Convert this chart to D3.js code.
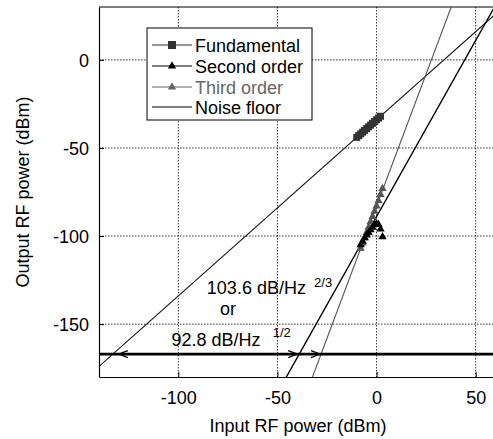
<!DOCTYPE html>
<html><head><meta charset="utf-8">
<script src="https://cdn.jsdelivr.net/npm/d3@7"></script>
<style>
html,body{margin:0;padding:0;background:#fff;}
svg{display:block;font-family:"Liberation Sans",Arial,sans-serif;}
</style></head>
<body>
<svg id="c" width="493" height="439"></svg>
<script>
// ---- data ----
const xTicks = [-100, -50, 0, 50];
const yTicks = [0, -50, -100, -150];
const inputFund = [-10,-9,-8,-7,-6,-5,-4,-3,-2,-1,0,1,2];
const fundamental = [-44,-43,-42,-41,-40,-39,-38,-37,-36,-35,-34,-33,-32];
const inputSecond = [-8,-7,-6,-5,-4,-3,-2,-1,0,1,2,3];
const secondOrder = [-105,-103,-101,-99.5,-98,-96.5,-95,-93.5,-93,-93.5,-96,-100.5];
const inputThird = [-8,-7,-6,-5,-4,-3,-2,-1,0,1,2,3];
const thirdOrder = [-107,-104,-101,-98,-95,-92,-89,-86,-83,-80,-76.5,-73];
const fitNames = ["fund","second","third"];
const fitSlopes = [1, 2, 3];
const fitIntercepts = [-34, -89, -83];
const noiseFloor = -167;
const arrowTips = [-130, -40, -28.5];
const arrowDirs = [-1, 1, 1];
const legendLabels = ["Fundamental","Second order","Third order","Noise floor"];

const svg = d3.select("#c");
const x = d3.scaleLinear().domain([-140, 60]).range([99, 495.5]);
const y = d3.scaleLinear().domain([-180, 30]).range([377, 7]);
const FS = 18;

svg.append("defs").append("clipPath").attr("id","clip")
  .append("rect").attr("x",99).attr("y",7).attr("width",400).attr("height",370);

// grid
const grid = svg.append("g");
grid.selectAll(".gx").data(xTicks).join("line")
  .attr("x1",d=>x(d)).attr("x2",d=>x(d)).attr("y1",y(30)).attr("y2",y(-180))
  .attr("stroke","#333").attr("stroke-width",1).attr("stroke-dasharray","1.5,1.5");
grid.selectAll(".gy").data(yTicks).join("line")
  .attr("y1",d=>y(d)).attr("y2",d=>y(d)).attr("x1",x(-140)).attr("x2",x(60))
  .attr("stroke","#333").attr("stroke-width",1).attr("stroke-dasharray","1.5,1.5");

// axes
const fmt = d => String(d);
const ax = svg.append("g").attr("transform",`translate(0,${y(-180)})`)
  .call(d3.axisBottom(x).tickValues(xTicks).tickFormat(fmt).tickSizeInner(-5).tickSizeOuter(0).tickPadding(14));
const ay = svg.append("g").attr("transform",`translate(${x(-140)},0)`)
  .call(d3.axisLeft(y).tickValues(yTicks).tickFormat(fmt).tickSizeInner(-5).tickSizeOuter(0).tickPadding(10));
[ax, ay].forEach(a => {
  a.selectAll("text").attr("font-size",FS).attr("fill","#000").attr("font-family","Liberation Sans, Arial, sans-serif");
  a.select(".domain").attr("stroke","#000").attr("stroke-width",1.2);
  a.selectAll(".tick line").attr("stroke","#000");
});
ay.selectAll("text").attr("dy","0.35em");
// top border
svg.append("line").attr("x1",x(-140)).attr("x2",x(60)).attr("y1",y(30)).attr("y2",y(30))
  .attr("stroke","#000").attr("stroke-width",1.2);

// axis titles
svg.append("text").attr("x",298).attr("y",432).attr("text-anchor","middle")
  .attr("font-size",FS).text("Input RF power (dBm)");
svg.append("text").attr("transform","translate(29,192) rotate(-90)").attr("text-anchor","middle")
  .attr("font-size",FS).text("Output RF power (dBm)");

// plot area
const plot = svg.append("g").attr("clip-path","url(#clip)");

// fit lines
const fitColors = ["#111","#000","#555"];
const fitWidths = [1.1, 1.4, 1.1];
fitNames.forEach((n,i) => {
  const x0 = -140, x1 = 60;
  plot.append("line")
    .attr("x1",x(x0)).attr("y1",y(fitSlopes[i]*x0+fitIntercepts[i]))
    .attr("x2",x(x1)).attr("y2",y(fitSlopes[i]*x1+fitIntercepts[i]))
    .attr("stroke",fitColors[i]).attr("stroke-width",fitWidths[i]);
});
// noise floor
plot.append("line").attr("x1",x(-140)).attr("x2",x(60)).attr("y1",y(noiseFloor)).attr("y2",y(noiseFloor))
  .attr("stroke","#000").attr("stroke-width",2.6);
// arrowheads
arrowTips.forEach((t,i) => {
  const tx = x(t), ty = y(noiseFloor), d = arrowDirs[i];
  plot.append("path").attr("d",`M${tx-d*9},${ty-3.5}L${tx},${ty}L${tx-d*9},${ty+3.5}`)
    .attr("fill","none").attr("stroke","#000").attr("stroke-width",1.2);
});

// data markers
const tri = d3.symbol().type(d3.symbolTriangle).size(30);
plot.selectAll(".third").data(inputThird).join("path")
  .attr("d",tri).attr("transform",(d,i)=>`translate(${x(d)},${y(thirdOrder[i])})`).attr("fill","#555");
plot.selectAll(".second").data(inputSecond).join("path")
  .attr("d",tri).attr("transform",(d,i)=>`translate(${x(d)},${y(secondOrder[i])})`).attr("fill","#000");
plot.selectAll(".fund").data(inputFund).join("rect")
  .attr("x",d=>x(d)-3.5).attr("y",(d,i)=>y(fundamental[i])-3.5).attr("width",7).attr("height",7).attr("fill","#333");

// annotations
const ann = svg.append("g").attr("font-size",FS);
ann.append("text").attr("x",x(-85.6)).attr("y",y(-132.9)).text("103.6 dB/Hz");
ann.append("text").attr("x",x(-31.5)).attr("y",y(-128.8)).attr("font-size",13).text("2/3");
ann.append("text").attr("x",x(-79)).attr("y",y(-144.8)).text("or");
ann.append("text").attr("x",x(-103.4)).attr("y",y(-162.4)).text("92.8 dB/Hz");
ann.append("text").attr("x",x(-52.4)).attr("y",y(-157.5)).attr("font-size",13).text("1/2");

// legend
const lg = svg.append("g");
lg.append("rect").attr("x",147).attr("y",28).attr("width",165).attr("height",92)
  .attr("fill","#fff").attr("stroke","#000").attr("stroke-width",1);
const rowY = [45, 66, 87, 107];
const lgColors = ["#333","#000","#666","#000"];
const txtColors = ["#000","#000","#666","#000"];
legendLabels.forEach((l,i) => {
  lg.append("line").attr("x1",152).attr("x2",192).attr("y1",rowY[i]).attr("y2",rowY[i])
    .attr("stroke",lgColors[i]).attr("stroke-width",1.1);
  if (i === 0) lg.append("rect").attr("x",168).attr("y",rowY[i]-4).attr("width",8).attr("height",8).attr("fill","#333");
  if (i === 1 || i === 2) lg.append("path").attr("d",tri).attr("transform",`translate(172,${rowY[i]})`).attr("fill",lgColors[i]);
  lg.append("text").attr("x",195).attr("y",rowY[i]+6.5).attr("font-size",FS).attr("fill",txtColors[i]).text(l);
});
</script>
</body></html>
